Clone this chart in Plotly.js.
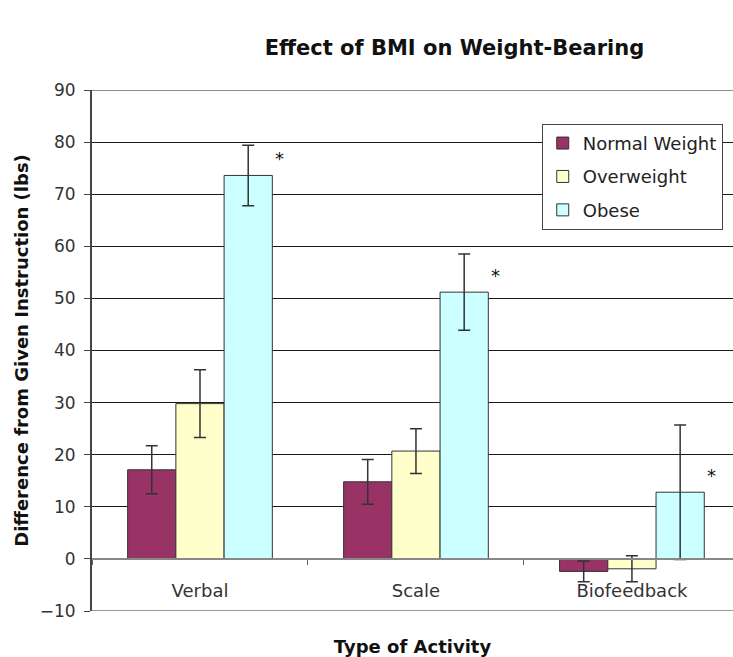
<!DOCTYPE html>
<html>
<head>
<meta charset="utf-8">
<script src="https://cdn.plot.ly/plotly-3.0.1.min.js"></script>
<style>html,body{margin:0;padding:0;background:#fff;}#chart{width:733px;height:657px;}</style>
</head>
<body>
<div id="chart"></div>
<script>
var categories = ["Verbal", "Scale", "Biofeedback"];
var seriesNames = ["Normal Weight", "Overweight", "Obese"];
var normalWeight = [17.1, 14.8, -2.4];
var normalErr = [4.6, 4.3, 2.0];
var overweight = [29.8, 20.7, -1.9];
var overweightErr = [6.5, 4.3, 2.5];
var obese = [73.6, 51.2, 12.8];
var obeseErr = [5.8, 7.3, 12.9];
var significant = [true, true, true];
var yTicks = [-10, 0, 10, 20, 30, 40, 50, 60, 70, 80, 90];
var yMin = -10, yMax = 90;

var colors = ["#993366", "#FFFFCC", "#CCFFFF"];
var values = [normalWeight, overweight, obese];
var errs = [normalErr, overweightErr, obeseErr];

var traces = seriesNames.map(function (name, i) {
  return {
    type: "bar",
    name: name,
    legendgroup: name,
    x: categories,
    y: values[i],
    marker: { color: colors[i], line: { color: "#333333", width: 1 } },
    error_y: { type: "data", array: errs[i], visible: true, color: "#333333", thickness: 1.5, width: 6 },
    hoverinfo: "x+y+name"
  };
});

var annotations = [];
categories.forEach(function (c, i) {
  if (significant[i]) {
    annotations.push({
      x: c, y: obese[i] + 3.2, xref: "x", yref: "y",
      text: "*", showarrow: false, xshift: 80,
      font: { family: "DejaVu Sans", size: 18, color: "#111" }
    });
  }
});

var shapes = [
  { type: "line", xref: "paper", yref: "y", x0: 0, x1: 1, y0: yMax, y1: yMax, line: { color: "#1a1a1a", width: 1 }, layer: "below" },
  { type: "line", xref: "paper", yref: "y", x0: 0, x1: 1, y0: yMin, y1: yMin, line: { color: "#777777", width: 1.5 }, layer: "below" }
];

var layout = {
  width: 733, height: 657,
  margin: { l: 92, r: 0, t: 90, b: 46 },
  paper_bgcolor: "#ffffff", plot_bgcolor: "#ffffff",
  barmode: "group", bargap: 0.33, bargroupgap: 0,
  font: { family: "DejaVu Sans", color: "#222222" },
  title: {
    text: "<b>Effect of BMI on Weight-Bearing</b>",
    x: 0.62, xref: "container", xanchor: "center",
    y: 0.928, yref: "container", yanchor: "middle",
    font: { family: "DejaVu Sans", size: 21, color: "#111111" }
  },
  xaxis: {
    type: "category",
    range: [-0.5, 2.468],
    anchor: "free", position: 0.1,
    showline: true, linecolor: "#888888", linewidth: 2,
    ticks: "outside", tickson: "boundaries", ticklen: 5, tickcolor: "#666666",
    ticklabelstandoff: 15,
    tickfont: { family: "DejaVu Sans", size: 18, color: "#333333" },
    showgrid: false, zeroline: false,
    title: { text: "<b>Type of Activity</b>", standoff: 40, font: { family: "DejaVu Sans", size: 18, color: "#111111" } },
    automargin: false
  },
  yaxis: {
    range: [yMin, yMax],
    tickvals: yTicks,
    showline: true, linecolor: "#444444", linewidth: 2,
    ticks: "outside", ticklen: 6, tickcolor: "#444444",
    ticklabelstandoff: 5,
    tickfont: { family: "DejaVu Sans", size: 17, color: "#333333" },
    showgrid: true, gridcolor: "#1a1a1a", gridwidth: 1,
    zeroline: false,
    title: { text: "<b>Difference from Given Instruction (lbs)</b>", standoff: 6, font: { family: "DejaVu Sans", size: 18, color: "#111111" } },
    automargin: false
  },
  legend: {
    x: 0.984, xanchor: "right", y: 0.935, yanchor: "top",
    bgcolor: "#ffffff", bordercolor: "#444444", borderwidth: 1,
    font: { family: "DejaVu Sans", size: 18, color: "#222222" },
    traceorder: "grouped", tracegroupgap: 7
  },
  shapes: shapes,
  annotations: annotations,
  showlegend: true
};

Plotly.newPlot("chart", traces, layout, { displayModeBar: false, staticPlot: true });
</script>
</body>
</html>
